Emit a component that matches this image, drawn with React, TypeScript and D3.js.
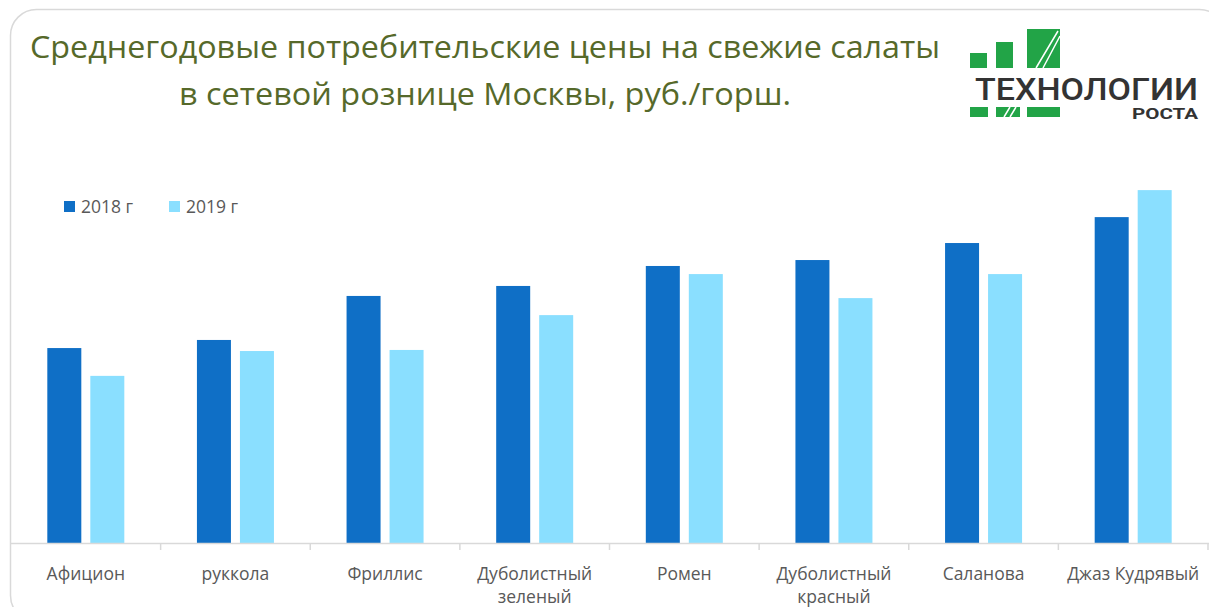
import { useEffect, useRef } from 'react';
import * as d3 from 'd3';

const categories = [
  ['Афицион'],
  ['руккола'],
  ['Фриллис'],
  ['Дуболистный', 'зеленый'],
  ['Ромен'],
  ['Дуболистный', 'красный'],
  ['Саланова'],
  ['Джаз Кудрявый'],
];
const series = ['2018 г', '2019 г'];
const values2018 = [72.2, 75.2, 91.5, 95.2, 102.6, 104.8, 111.1, 120.7];
const values2019 = [61.9, 71.1, 71.5, 84.4, 99.6, 90.7, 99.6, 130.7];
const titleLines = [
  'Среднегодовые потребительские цены на свежие салаты',
  'в сетевой рознице Москвы, руб./горш.',
];

const COLORS = ['#0f6fc6', '#8adfff'];
const W = 1209;
const H = 607;
const FONT = "'Open Sans', 'Noto Sans', sans-serif";

const App = () => {
  const svgRef = useRef<SVGSVGElement>(null);

  useEffect(() => {
    const svg = d3.select(svgRef.current);
    svg.selectAll('*').remove();
    svg.attr('width', W).attr('height', H);

    // frame
    svg.append('rect')
      .attr('x', 10.5).attr('y', 9.5)
      .attr('width', 1215).attr('height', 612)
      .attr('rx', 26)
      .attr('fill', '#fff')
      .attr('stroke', '#d9d9d9')
      .attr('stroke-width', 1.5);

    // title
    svg.selectAll('text.title')
      .data(titleLines)
      .enter()
      .append('text')
      .attr('class', 'title')
      .attr('x', 485)
      .attr('y', (d, i) => 58 + i * 47)
      .attr('text-anchor', 'middle')
      .attr('font-family', FONT)
      .attr('font-size', '31px')
      .attr('fill', '#56692a')
      .attr('textLength', (d, i) => (i === 0 ? 910 : 612))
      .attr('lengthAdjust', 'spacingAndGlyphs')
      .text(d => d);

    // logo
    const logo = svg.append('g');
    const sq = [
      [970, 53, 17, 15],
      [996, 42, 17, 26],
      [1027, 29, 33, 39],
      [970, 107, 18, 10],
      [996, 107, 24, 10],
      [1027, 107, 33, 10],
    ];
    logo.selectAll('rect')
      .data(sq)
      .enter()
      .append('rect')
      .attr('x', d => d[0]).attr('y', d => d[1])
      .attr('width', d => d[2]).attr('height', d => d[3])
      .attr('fill', '#22a447');
    logo.append('path')
      .attr('d', 'M1036,68 L1058,31 M1043,68 L1060,36 M1004,117 L1010,107 M1010,117 L1016,107')
      .attr('stroke', '#fff')
      .attr('stroke-width', 1.5)
      .attr('fill', 'none');
    logo.append('text')
      .attr('x', 975).attr('y', 100)
      .attr('font-family', "'Roboto', 'Liberation Sans', sans-serif")
      .attr('font-weight', 500)
      .attr('font-size', '31px')
      .attr('fill', '#333')
      .attr('textLength', 223)
      .attr('lengthAdjust', 'spacingAndGlyphs')
      .text('ТЕХНОЛОГИИ');
    logo.append('text')
      .attr('x', 1132).attr('y', 119)
      .attr('font-family', "'Roboto', 'Liberation Sans', sans-serif")
      .attr('font-weight', 700)
      .attr('font-size', '15px')
      .attr('fill', '#333')
      .attr('textLength', 66)
      .attr('lengthAdjust', 'spacingAndGlyphs')
      .text('РОСТА');

    // scales
    const x0 = d3.scaleBand<number>()
      .domain(d3.range(categories.length))
      .range([11, 1208])
      .paddingInner(0)
      .paddingOuter(0);
    const y = d3.scaleLinear().domain([0, 150]).range([543, 138]);
    const barW = 34;
    const gap = 9;

    const data = categories.map((c, i) => ({ i, vals: [values2018[i], values2019[i]] }));

    const groups = svg.append('g')
      .selectAll('g')
      .data(data)
      .enter()
      .append('g')
      .attr('transform', d => `translate(${x0(d.i)! + x0.bandwidth() / 2},0)`);

    groups.selectAll('rect')
      .data(d => d.vals)
      .enter()
      .append('rect')
      .attr('x', (d, j) => (j === 0 ? -barW - gap / 2 : gap / 2))
      .attr('y', d => y(d))
      .attr('width', barW)
      .attr('height', d => y(0) - y(d))
      .attr('fill', (d, j) => COLORS[j]);

    // axis
    svg.append('line')
      .attr('x1', 11).attr('x2', 1209)
      .attr('y1', 543.5).attr('y2', 543.5)
      .attr('stroke', '#d9d9d9').attr('stroke-width', 1.5);
    svg.selectAll('line.tick')
      .data(d3.range(1, categories.length + 1))
      .enter()
      .append('line')
      .attr('class', 'tick')
      .attr('x1', d => x0.step() * d + 11)
      .attr('x2', d => x0.step() * d + 11)
      .attr('y1', 543).attr('y2', 550)
      .attr('stroke', '#d9d9d9').attr('stroke-width', 1.5);

    const labels = svg.append('g')
      .selectAll('text')
      .data(categories)
      .enter()
      .append('text')
      .attr('x', (d, i) => x0(i)! + x0.bandwidth() / 2)
      .attr('y', 580)
      .attr('text-anchor', 'middle')
      .attr('font-family', FONT)
      .attr('font-size', '17.5px')
      .attr('fill', '#595959');
    labels.selectAll('tspan')
      .data(d => d)
      .enter()
      .append('tspan')
      .attr('x', function () {
        return (this as SVGTSpanElement).parentElement!.getAttribute('x');
      })
      .attr('dy', (d, j) => (j === 0 ? 0 : 23))
      .text(d => d);

    // legend
    const leg = svg.append('g')
      .selectAll('g')
      .data(series)
      .enter()
      .append('g')
      .attr('transform', (d, i) => `translate(${64 + i * 105},201)`);
    leg.append('rect')
      .attr('width', 11).attr('height', 11)
      .attr('fill', (d, i) => COLORS[i]);
    leg.append('text')
      .attr('x', 17).attr('y', 12)
      .attr('font-family', FONT)
      .attr('font-size', '17.5px')
      .attr('fill', '#595959')
      .text(d => d);
  }, []);

  return (
    <div style={{ position: 'fixed', left: 0, top: 0, width: W, height: H, background: '#fff' }}>
      <svg ref={svgRef} style={{ display: 'block' }} />
    </div>
  );
};

export default App;
